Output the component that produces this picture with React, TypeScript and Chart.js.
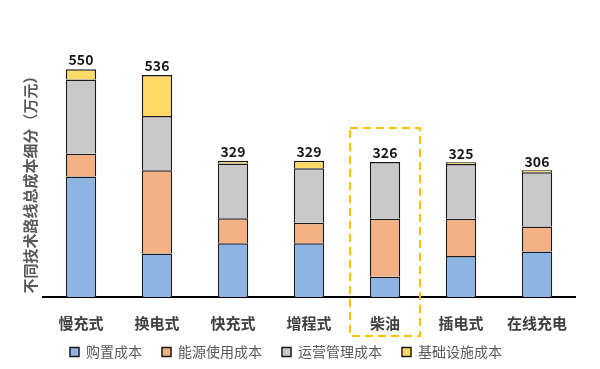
import React, { useEffect, useRef } from "react";
import { Chart, registerables } from "chart.js";

Chart.register(...registerables);

const categories = ["慢充式", "换电式", "快充式", "增程式", "柴油", "插电式", "在线充电"];
const purchaseCost = [291, 105, 130, 130, 49, 99, 110];
const energyCost = [55, 201, 60, 49, 140, 90, 60];
const operationCost = [179, 131, 132, 132, 137, 132, 131];
const infraCost = [25, 99, 7, 18, 0, 4, 5];
const seriesNames = ["购置成本", "能源使用成本", "运营管理成本", "基础设施成本"];
const totalLabels = [550, 536, 329, 329, 326, 325, 306];
const highlightCategory = "柴油";
const yTitle = "不同技术路线总成本细分（万元）";

const FONT = "'Noto Sans CJK SC', 'Noto Sans', sans-serif";

const totalsPlugin = {
  id: "totals",
  afterDatasetsDraw(chart: any) {
    const { ctx, scales } = chart;
    const x = scales.x;
    const y = scales.y;
    ctx.save();
    ctx.font = `bold 14px ${FONT}`;
    ctx.fillStyle = "#1a1a1a";
    ctx.textAlign = "center";
    ctx.textBaseline = "bottom";
    categories.forEach((_, i) => {
      let sum = 0;
      chart.data.datasets.forEach((ds: any) => (sum += ds.data[i]));
      ctx.fillText(String(totalLabels[i]), x.getPixelForValue(i), y.getPixelForValue(sum) - 2);
    });
    ctx.restore();
  },
};

const highlightPlugin = {
  id: "highlight",
  afterDraw(chart: any) {
    const { ctx, scales } = chart;
    const idx = categories.indexOf(highlightCategory);
    if (idx < 0) return;
    const x = scales.x;
    const y = scales.y;
    const cx = x.getPixelForValue(idx);
    const half = 35;
    const top = y.getPixelForValue(408);
    const bottom = y.getPixelForValue(0) + 39;
    ctx.save();
    ctx.strokeStyle = "#FFC000";
    ctx.lineWidth = 2;
    ctx.setLineDash([8, 5]);
    ctx.strokeRect(cx - half, top, half * 2, bottom - top);
    ctx.restore();
  },
};

const legendShiftPlugin = {
  id: "legendShift",
  afterLayout(chart: any) {
    const lg = chart.legend;
    if (lg) {
      lg.left -= 10;
      lg.right -= 10;
      lg.top -= 24;
      lg.bottom -= 24;
    }
  },
};

export default function App() {
  const ref = useRef<HTMLCanvasElement | null>(null);
  useEffect(() => {
    if (!ref.current) return;
    const colors = ["#8EB4E3", "#F4B183", "#C9C9C9", "#FFD966"];
    const values = [purchaseCost, energyCost, operationCost, infraCost];
    const chart = new Chart(ref.current, {
      type: "bar",
      data: {
        labels: categories,
        datasets: seriesNames.map((name, i) => ({
          label: name,
          data: values[i],
          backgroundColor: colors[i],
          borderColor: "#1a1a1a",
          borderWidth: 1.5,
          barPercentage: 0.4,
          categoryPercentage: 1,
        })),
      },
      options: {
        animation: false,
        responsive: true,
        maintainAspectRatio: false,
        layout: { padding: { left: 9, right: 17, top: 57, bottom: -24 } },
        plugins: {
          tooltip: { enabled: false },
          legend: {
            position: "bottom",
            labels: {
              boxWidth: 9,
              boxHeight: 9,
              padding: 20,
              color: "#595959",
              font: { family: FONT, size: 14 },
              generateLabels: (chart: any) =>
                chart.data.datasets.map((ds: any, i: number) => ({
                  text: ds.label,
                  fillStyle: ds.backgroundColor,
                  strokeStyle: "#1a1a1a",
                  lineWidth: 1.5,
                  fontColor: "#595959",
                  datasetIndex: i,
                  hidden: false,
                })),
            },
          },
        },
        scales: {
          x: {
            stacked: true,
            grid: { display: false, drawTicks: false },
            border: { display: true, color: "#000", width: 2 },
            ticks: {
              padding: 17,
              color: "#404040",
              font: { family: FONT, size: 15, weight: "bold" },
            },
          },
          y: {
            stacked: true,
            min: 0,
            max: 560,
            grid: { display: false, drawTicks: false },
            border: { display: false },
            ticks: { display: false },
            title: {
              display: true,
              text: yTitle,
              color: "#595959",
              padding: { top: 4, bottom: 4 },
              font: { family: FONT, size: 15, weight: "bold" },
            },
          },
        },
      },
      plugins: [totalsPlugin, highlightPlugin, legendShiftPlugin],
    } as any);
    return () => chart.destroy();
  }, []);
  return (
    <div style={{ width: 584, height: 361, position: "relative" }}>
      <canvas ref={ref} />
    </div>
  );
}
